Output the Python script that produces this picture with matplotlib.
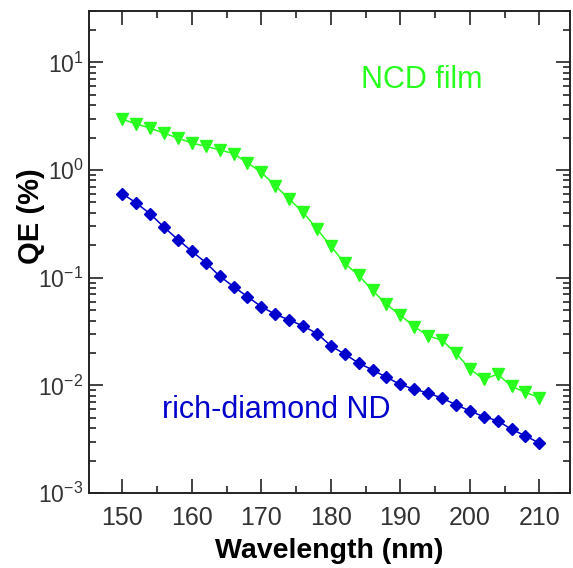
import matplotlib.pyplot as plt
import numpy as np

plt.rcParams['font.family'] = ['Liberation Sans', 'DejaVu Sans']
plt.rcParams['axes.unicode_minus'] = False

# wavelength grid (nm)
wavelength = np.arange(150, 211, 2)

# NCD film QE (%)
ncd_film = [2.97, 2.68, 2.45, 2.20, 1.98, 1.78, 1.66, 1.54, 1.42, 1.17,
            0.95, 0.716, 0.538, 0.405, 0.284, 0.196, 0.136, 0.105, 0.0762, 0.0566,
            0.0448, 0.0352, 0.0288, 0.0262, 0.0199, 0.0142, 0.0114, 0.0127, 0.0098, 0.0086,
            0.0077]

# rich-diamond ND QE (%)
rich_nd = [0.604, 0.494, 0.392, 0.294, 0.226, 0.176, 0.138, 0.1035, 0.0826, 0.0667,
           0.0538, 0.0457, 0.0405, 0.0356, 0.0303, 0.0233, 0.0195, 0.0161, 0.0139, 0.0119,
           0.0102, 0.0092, 0.0085, 0.0076, 0.0066, 0.0058, 0.0051, 0.0047, 0.0039, 0.0034,
           0.0029]

green = '#28ff1e'
blue = '#0000cc'

fig = plt.figure(figsize=(5.73, 5.68), dpi=100)
ax = fig.add_axes([0.1553, 0.132, 0.8394, 0.8486])

ax.plot(wavelength, ncd_film, color=green, marker='v', markersize=8.5, lw=1.1)
ax.plot(wavelength, rich_nd, color=blue, marker='D', markersize=6.5, lw=1.1)

ax.set_yscale('log')
ax.set_xlim(145.2, 214.4)
ax.set_ylim(1e-3, 30)
ax.set_xticks(np.arange(150, 211, 10))
ax.set_xticks(np.arange(155, 211, 10), minor=True)

ax.tick_params(which='both', direction='in', top=True, right=True, width=1.2, colors='#222222',
               labelcolor='#333333')
ax.tick_params(which='major', length=10)
ax.tick_params(which='minor', length=5)
ax.tick_params(axis='x', pad=9, labelsize=18)
ax.tick_params(axis='y', pad=4, labelsize=16.5)
for s in ax.spines.values():
    s.set_linewidth(1.4)
    s.set_color('#222222')

ax.set_xlabel('Wavelength (nm)', fontsize=20.5, fontweight='bold')
ax.xaxis.set_label_coords(0.5, -0.093)
ax.set_ylabel('QE (%)', fontsize=21, fontweight='bold')
ax.yaxis.set_label_coords(-0.092, 0.575)

ax.text(422, 488, 'NCD film', transform=None, color=green, fontsize=22, ha='center', va='center')
ax.text(276, 158, 'rich-diamond ND', transform=None, color=blue, fontsize=22, ha='center', va='center')

fig.savefig('out.png', dpi=100)
